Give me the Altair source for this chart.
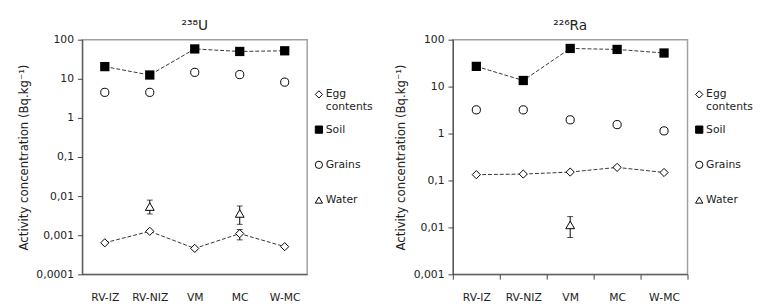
import altair as alt
import pandas as pd

sites = ["RV-IZ", "RV-NIZ", "VM", "MC", "W-MC"]

# 238U panel
u_soil = [20.5, 12.5, 58, 50, 52]
u_grains = [4.5, 4.5, 14.6, 12.8, 8.2]
u_egg = [0.00064, 0.00126, 0.00046, 0.0011, 0.00051]
u_err_sites = ["RV-NIZ", "MC", "MC"]
u_err_series = ["Water", "Water", "Egg contents"]
u_err_value = [0.0054, 0.0036, None]
u_err_low = [0.0035, 0.0019, 0.00076]
u_err_high = [0.0079, 0.0056, 0.0014]

# 226Ra panel
ra_soil = [27, 13.5, 65, 62, 52]
ra_grains = [3.2, 3.2, 1.96, 1.55, 1.14]
ra_egg = [0.133, 0.137, 0.151, 0.19, 0.148]
ra_err_sites = ["VM"]
ra_err_series = ["Water"]
ra_err_value = [0.0113]
ra_err_low = [0.0061]
ra_err_high = [0.017]

legend_labels = ["Egg contents", "Soil", "Grains", "Water"]
legend_text = ["Egg\ncontents", "Soil", "Grains", "Water"]
legend_shapes = ["diamond", "square", "circle", "triangle-up"]
legend_fills = ["white", "black", "white", "white"]

u_ticks = [0.0001, 0.001, 0.01, 0.1, 1, 10, 100]
ra_ticks = [0.001, 0.01, 0.1, 1, 10, 100]

FONT = "DejaVu Sans"
YTITLE = "Activity concentration (Bq.kg⁻¹)"
LABEL_EXPR = "replace(format(datum.value, '~g'), '.', ',')"


def panel(title, soil, grains, egg, err_sites, err_series, err_value, err_low, err_high,
          ydomain, yticks, width, xticks):
    df = pd.DataFrame({
        "site": sites * 3,
        "series": ["Soil"] * 5 + ["Grains"] * 5 + ["Egg contents"] * 5,
        "value": list(soil) + list(grains) + list(egg),
    })
    err = pd.DataFrame({"site": err_sites, "series": err_series, "value": err_value,
                        "low": err_low, "high": err_high})
    leg = pd.DataFrame({"label": legend_labels, "text": legend_text})

    x_axis = alt.Axis(title=None, labelAngle=0, tickBand="extent",
                      tickOpacity=1 if xticks else 0, labelPadding=13, domainColor="#444")
    x = alt.X("site:N", sort=sites,
              scale=alt.Scale(domain=sites, paddingInner=0, paddingOuter=0), axis=x_axis)
    yscale = alt.Scale(type="log", domain=ydomain, nice=False)
    yaxis = alt.Axis(values=yticks, labelExpr=LABEL_EXPR, title=YTITLE, grid=False)

    def y(field):
        return alt.Y(f"{field}:Q", scale=yscale, axis=yaxis)

    base = alt.Chart(df).encode(x=x, y=y("value"))
    dash = dict(strokeDash=[4, 2], strokeWidth=1, color="#333")
    soil_line = base.transform_filter("datum.series == 'Soil'").mark_line(**dash)
    egg_line = base.transform_filter("datum.series == 'Egg contents'").mark_line(**dash)
    soil_pts = base.transform_filter("datum.series == 'Soil'").mark_point(
        shape="square", size=90, filled=True, color="black", opacity=1)
    grain_pts = base.transform_filter("datum.series == 'Grains'").mark_point(
        shape="circle", size=70, fill="white", stroke="black", strokeWidth=1, opacity=1)
    egg_pts = base.transform_filter("datum.series == 'Egg contents'").mark_point(
        shape="diamond", size=70, fill="white", stroke="black", strokeWidth=1, opacity=1)

    eb = alt.Chart(err).encode(x=x)
    err_rule = eb.mark_rule(color="black", strokeWidth=1).encode(y=y("low"), y2="high:Q")
    cap_lo = eb.mark_tick(color="black", size=6, thickness=1).encode(y=y("low"))
    cap_hi = eb.mark_tick(color="black", size=6, thickness=1).encode(y=y("high"))
    water_pts = eb.transform_filter("datum.series == 'Water'").mark_point(
        shape="triangle-up", size=80, fill="white", stroke="black", strokeWidth=1,
        opacity=1).encode(y=y("value"))

    data_layer = alt.layer(soil_line, egg_line, err_rule, cap_lo, cap_hi,
                           soil_pts, grain_pts, egg_pts, water_pts)

    ly = alt.Y("label:N", scale=alt.Scale(domain=legend_labels, range=[56, 164], padding=0),
               axis=None)
    leg_base = alt.Chart(leg).encode(y=ly)
    leg_sym = leg_base.mark_point(size=55, stroke="black", strokeWidth=1, opacity=1).encode(
        x=alt.value(width + 12),
        shape=alt.Shape("label:N", scale=alt.Scale(domain=legend_labels, range=legend_shapes),
                        legend=None),
        fill=alt.Fill("label:N", scale=alt.Scale(domain=legend_labels, range=legend_fills),
                      legend=None),
    )
    leg_txt = leg_base.mark_text(align="left", baseline="top", dy=-6, lineBreak="\n",
                                 lineHeight=13, fontSize=11, font=FONT, color="#222").encode(
        x=alt.value(width + 19), text="text:N")
    leg_layer = alt.layer(leg_sym, leg_txt)

    return alt.layer(data_layer, leg_layer).resolve_scale(
        y="independent", x="independent", shape="independent", fill="independent"
    ).properties(width=width, height=240, title=alt.TitleParams(title))


left = panel("²³⁸U", u_soil, u_grains, u_egg, u_err_sites, u_err_series, u_err_value,
             u_err_low, u_err_high, [0.0001, 100], u_ticks, 230, False)
right = panel("²²⁶Ra", ra_soil, ra_grains, ra_egg, ra_err_sites, ra_err_series, ra_err_value,
              ra_err_low, ra_err_high, [0.001, 100], ra_ticks, 240, True)

chart = alt.hconcat(left, right, spacing=20).properties(
    padding={"left": 8, "top": 7, "right": 0, "bottom": 0}
).configure_view(stroke="#a0a0a0", strokeWidth=1.5).configure_axis(
    domainColor="#444", labelFont=FONT, labelFontSize=11, labelColor="#222",
    titleFont=FONT, titleFontSize=12, titleFontWeight="normal", titleColor="#222",
    tickColor="#444", tickSize=5, labelPadding=4, titlePadding=6, grid=False
).configure_title(font=FONT, fontSize=14, fontWeight="normal", color="#222", offset=1)

chart.save("out.html", embed_options={"renderer": "svg", "actions": False})
